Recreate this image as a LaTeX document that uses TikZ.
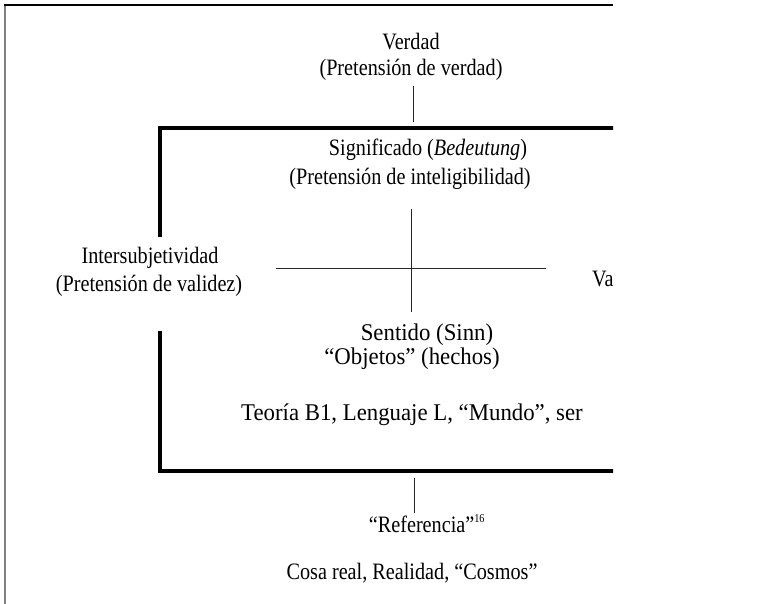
\documentclass[tikz,border=0pt]{standalone}
\usepackage{fontspec}
\setmainfont{Liberation Serif}
\newfontfamily\narrowserif[FakeStretch=0.86]{Liberation Serif}
\newfontfamily\bigserif[FakeStretch=0.95]{Liberation Serif}
\begin{document}
\begin{tikzpicture}[x=1pt,y=-1pt,
  small/.style={font=\narrowserif\fontsize{23.5}{27}\selectfont, inner sep=0pt, anchor=base},
  big/.style={font=\bigserif\fontsize{24}{28}\selectfont, inner sep=0pt, anchor=base},
  thin/.style={line width=1pt, draw=black!85},
  frame/.style={line width=4pt, draw=black},
]
\useasboundingbox (0,0) rectangle (770,604);
\begin{scope}
\clip (0,0) rectangle (613,604);
% outer frame
\draw[line width=2pt, draw=black!50] (5,4) -- (5,604);
\draw[line width=1.5pt, draw=black] (4,5) -- (613,5);
% texts
\node[small] (verdad) at (411,50) {Verdad};
\node[small] (pverdad) at (411,76) {(Pretensión de verdad)};
\node[small] (signif) at (428,156) {Significado (\textit{Bedeutung})};
\node[small] (pintel) at (410,184) {(Pretensión de inteligibilidad)};
\node[small] (inter) at (150,263) {Intersubjetividad};
\node[small] (pvalid) at (149,291) {(Pretensión de validez)};
\node[small, anchor=base west] (va) at (592,286) {Va};
\node[big] (sentido) at (427,340) {Sentido (Sinn)};
\node[big] (objetos) at (412,364) {“Objetos” (hechos)};
\node[big] (teoria) at (412,420) {Teoría B1, Lenguaje L, “Mundo”, ser};
\node[small] (refer) at (427,532) {“Referencia”\textsuperscript{\fontsize{12}{13}\selectfont 16}};
\node[small] (cosa) at (412,579) {Cosa real, Realidad, “Cosmos”};
% connectors
\coordinate (t1) at (413,86);
\coordinate (t2) at (413,122);
\draw[thin] (t1) -- (t2);
\coordinate (cv1) at (411,209);
\coordinate (cv2) at (411,312);
\coordinate (ch1) at (276,268);
\coordinate (ch2) at (546,268);
\draw[thin] (cv1) -- (cv2);
\draw[thin] (ch1) -- (ch2);
\coordinate (b1) at (414,478);
\coordinate (b2) at (414,513);
\draw[thin] (b1) -- (b2);
% box
\coordinate (bl1) at (160,128);
\coordinate (bl2) at (160,471);
\draw[frame] (bl1) -- (160,237);
\draw[frame] (160,331) -- (bl2);
\draw[frame] (158,128) -- (620,128);
\draw[frame] (158,471) -- (620,471);
\end{scope}
\end{tikzpicture}
\end{document}
